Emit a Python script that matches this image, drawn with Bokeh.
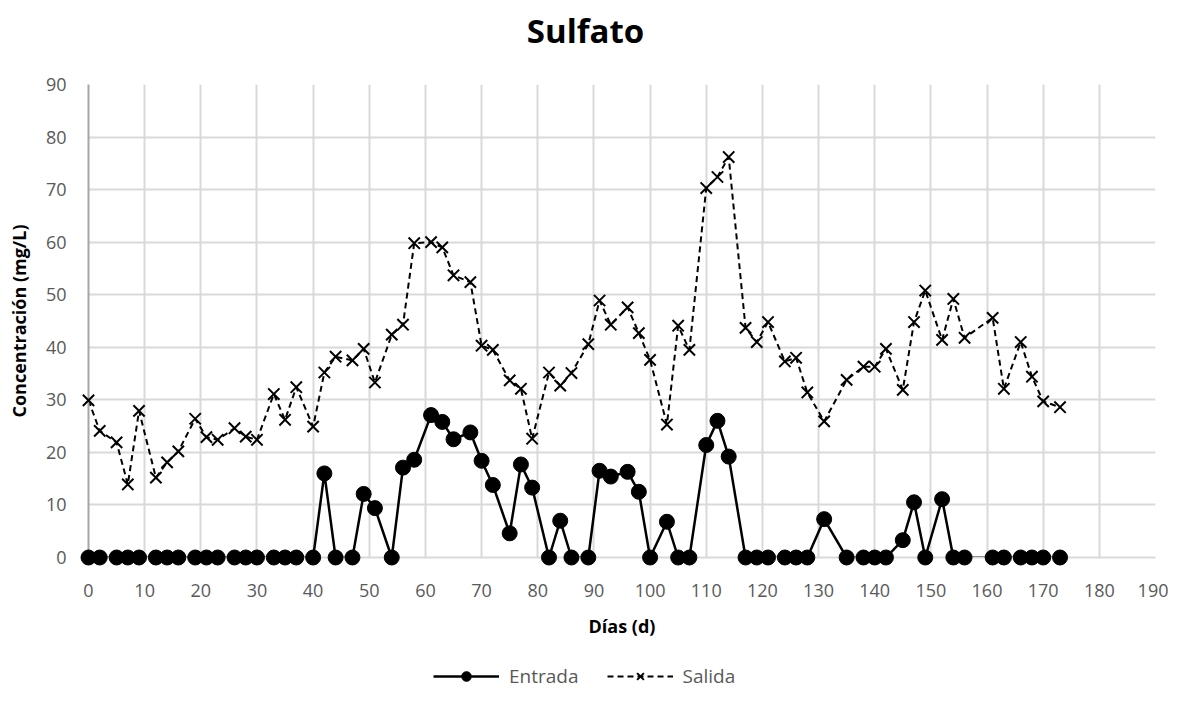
from bokeh.plotting import figure
from bokeh.layouts import column
from bokeh.models import Range1d, FixedTicker, Legend, LegendItem, Label
from bokeh.embed import file_html
from bokeh.resources import INLINE

titulo = "Sulfato"
eje_x = "Días (d)"
eje_y = "Concentración (mg/L)"

dias = [0, 2, 5, 7, 9, 12, 14, 16, 19, 21, 23, 26, 28, 30, 33, 35, 37, 40,
        42, 44, 47, 49, 51, 54, 56, 58,
        61, 63, 65, 68, 70, 72, 75, 77, 79,
        82, 84, 86, 89, 91, 93, 96, 98,
        100, 103, 105, 107, 110, 112, 114,
        117, 119, 121, 124, 126, 128, 131,
        135, 138, 140, 142, 145, 147, 149,
        152, 154, 156, 161, 163, 166, 168, 170, 173]

entrada = [0, 0, 0, 0, 0, 0, 0, 0, 0, 0, 0, 0, 0, 0, 0, 0, 0, 0,
           16.0, 0, 0, 12.1, 9.4, 0, 17.1, 18.6,
           27.1, 25.8, 22.5, 23.8, 18.4, 13.8, 4.6, 17.7, 13.3,
           0, 7.0, 0, 0, 16.5, 15.4, 16.3, 12.5,
           0, 6.8, 0, 0, 21.4, 26.0, 19.2,
           0, 0, 0, 0, 0, 0, 7.3,
           0, 0, 0, 0, 3.3, 10.5, 0,
           11.1, 0, 0, 0, 0, 0, 0, 0, 0]

salida = [29.9, 24.1, 21.9, 13.9, 27.9, 15.2, 18.1, 20.2, 26.4, 22.9, 22.4, 24.6, 23.0, 22.4, 31.1, 26.2, 32.4, 24.9,
          35.2, 38.2, 37.5, 39.7, 33.3, 42.4, 44.3, 59.8,
          60.0, 59.0, 53.7, 52.4, 40.3, 39.5, 33.7, 32.1, 22.6,
          35.2, 32.7, 35.1, 40.6, 48.9, 44.3, 47.6, 42.7,
          37.6, 25.3, 44.1, 39.5, 70.3, 72.4, 76.2,
          43.7, 41.0, 44.8, 37.3, 38.0, 31.4, 25.9,
          33.8, 36.3, 36.3, 39.7, 31.9, 44.8, 50.8,
          41.4, 49.2, 41.8, 45.6, 32.1, 41.0, 34.4, 29.7, 28.6]

series = ["Entrada", "Salida"]
x_ticks = list(range(0, 191, 10))
y_ticks = list(range(0, 91, 10))

FONT = "Open Sans"
TXT = "#595959"

W = 1168
HT = 54     # title strip
HP = 597    # chart
HQ = 39     # legend strip

# ---- title strip
t = figure(width=W, height=HT, x_range=Range1d(0, 1), y_range=Range1d(0, 1),
           title=None, output_backend="svg", toolbar_location=None,
           x_axis_location=None, y_axis_location=None,
           min_border_left=0, min_border_right=0, min_border_top=0, min_border_bottom=0)
t.grid.visible = False
t.outline_line_color = None
t.add_layout(Label(x=497, y=HT - 30, x_units="screen", y_units="screen",
                   text=titulo, text_align="center", text_baseline="middle",
                   text_font=FONT, text_font_size="33px", text_font_style="bold",
                   text_color="black"))

# ---- chart
p = figure(width=W, height=HP, x_range=Range1d(0, 190), y_range=Range1d(0, 90),
           title=None, output_backend="svg", toolbar_location=None,
           min_border_left=88, min_border_right=13, min_border_top=30,
           min_border_bottom=94)
p.outline_line_color = None
p.background_fill_color = "white"

p.xgrid.grid_line_color = "#d9d9d9"
p.ygrid.grid_line_color = "#d9d9d9"
p.xgrid.grid_line_width = 2
p.ygrid.grid_line_width = 2

p.xaxis.ticker = FixedTicker(ticks=x_ticks)
p.yaxis.ticker = FixedTicker(ticks=y_ticks)
for ax in (p.xaxis, p.yaxis):
    ax.major_tick_line_color = None
    ax.minor_tick_line_color = None
    ax.major_label_text_font = FONT
    ax.major_label_text_font_size = "18px"
    ax.major_label_text_color = TXT
    ax.axis_label_text_font = FONT
    ax.axis_label_text_font_size = "18px"
    ax.axis_label_text_font_style = "bold"
    ax.axis_label_text_color = "black"
p.xaxis.axis_line_color = "#d9d9d9"
p.xaxis.axis_line_width = 2
p.yaxis.axis_line_color = "#a6a6a6"
p.yaxis.axis_line_width = 2
p.xaxis.axis_label = eje_x
p.yaxis.axis_label = eje_y
p.xaxis.major_label_standoff = 20
p.xaxis.axis_label_standoff = 14
p.yaxis.major_label_standoff = 16
p.yaxis.axis_label_standoff = 12

p.line(dias, entrada, line_color="black", line_width=2.5)
p.scatter(dias, entrada, marker="circle", size=15, fill_color="black",
          line_color="black", level="overlay")
p.line(dias, salida, line_color="black", line_width=2, line_dash="6 4")
p.scatter(dias, salida, marker="x", size=16, line_color="black",
          line_width=2, level="overlay")

# ---- legend strip (series drawn out of view; only the legend shows)
q = figure(width=W, height=HQ, x_range=Range1d(1000, 1001), y_range=Range1d(1000, 1001),
           title=None, output_backend="svg", toolbar_location=None,
           x_axis_location=None, y_axis_location=None,
           min_border_left=0, min_border_right=0, min_border_top=0, min_border_bottom=0)
q.grid.visible = False
q.outline_line_color = None
ql1 = q.line(dias, entrada, line_color="black", line_width=2.5)
qs1 = q.scatter(dias, entrada, marker="circle", size=15, fill_color="black",
                line_color="black")
ql2 = q.line(dias, salida, line_color="black", line_width=2, line_dash="6 4")
qs2 = q.scatter(dias, salida, marker="x", size=16, line_color="black",
                line_width=2)
legend = Legend(items=[LegendItem(label=series[0], renderers=[ql1, qs1]),
                       LegendItem(label=series[1], renderers=[ql2, qs2])],
                location=(345, 1), orientation="horizontal",
                glyph_width=66, glyph_height=24, label_standoff=10, spacing=28,
                padding=0, margin=0, border_line_color=None,
                background_fill_alpha=0,
                label_text_font=FONT, label_text_font_size="19px",
                label_text_color=TXT)
q.add_layout(legend, "center")

layout = column(t, p, q, spacing=0)
open("out.html", "w").write(file_html(layout, INLINE))
